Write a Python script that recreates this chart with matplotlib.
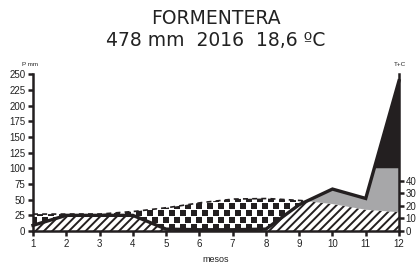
import numpy as np
import matplotlib
matplotlib.use('Agg')
import matplotlib.pyplot as plt
from matplotlib.path import Path

# ---- data ----
months = [1, 2, 3, 4, 5, 6, 7, 8, 9, 10, 11, 12]
precip_mm = [9, 25, 25, 25, 3, 2, 2, 3, 42, 67, 52, 240]
temp_c = [13.5, 13.5, 13.5, 15.5, 18.5, 22.5, 25.5, 26, 24.5, 21.5, 17, 15]
left_ticks = [0, 25, 50, 75, 100, 125, 150, 175, 200, 225, 250]
right_ticks = [0, 10, 20, 30, 40]
station = "FORMENTERA"
subtitle = "478 mm  2016  18,6 ºC"
xlabel = "mesos"
left_title = "P mm"
right_title = "T+C"

plt.rcParams['hatch.linewidth'] = 1.4
plt.rcParams['font.family'] = ['Liberation Sans', 'DejaVu Sans']
INK = '#231f20'

W, H = 418, 263
fig = plt.figure(figsize=(W / 100, H / 100), dpi=100)
ax_l, ax_b, ax_w, ax_h = 33, 32, 366, 156.5
ax = fig.add_axes([ax_l / W, ax_b / H, ax_w / W, ax_h / H])
ax.set_xlim(months[0], months[-1])
ax.set_ylim(0, 250)

x = np.asarray(months, float)
P = np.asarray(precip_mm, float)
T2 = 2 * np.asarray(temp_c, float)
xf = np.linspace(x[0], x[-1], 2201)
Pf = np.interp(xf, x, P)
Tf = np.interp(xf, x, T2)

# hatched part below both curves
ax.fill_between(xf, 0, np.minimum(Pf, Tf), facecolor='white', edgecolor=INK,
                hatch='////', linewidth=0, zorder=1)
# dry period (temperature above precipitation)
dry = ax.fill_between(xf, Pf, Tf, where=Tf >= Pf, facecolor='white',
                      linewidth=0, zorder=1)
clip = Path.make_compound_path(*dry.get_paths())
# square-dot pattern
xs_per_px = (months[-1] - months[0]) / ax_w
ys_per_px = 250 / ax_h
gx, gy = [], []
for r, py in enumerate(np.arange(-3, 80, 7.0)):
    off = 5.5 if r % 2 else 0.0
    for px in np.arange(-10 + off, ax_w + 12, 11.0):
        gx.append(months[0] + px * xs_per_px)
        gy.append(py * ys_per_px)
sc = ax.scatter(gx, gy, marker='s', s=17, c=INK, linewidths=0, zorder=2)
sc.set_clip_path(clip, ax.transData)
ax.plot(xf, np.where(Tf >= Pf, Tf, np.nan), color=INK, lw=1.2,
        ls=(0, (3, 2.5)), zorder=2)

# humid period
ax.fill_between(xf, Tf, np.minimum(Pf, 100), where=Pf >= Tf,
                facecolor='#a7a7a9', linewidth=0, zorder=1)
ax.fill_between(xf, 100, Pf, where=Pf >= 100, facecolor=INK, linewidth=0, zorder=1)

# precipitation line
ax.plot(x, P, color=INK, lw=2.4, solid_joinstyle='miter', zorder=3, clip_on=False)

# axes styling
for s in ['top', 'right']:
    ax.spines[s].set_visible(False)
for s in ['left', 'bottom']:
    ax.spines[s].set_linewidth(1.8)
    ax.spines[s].set_color(INK)
ax.set_xticks(months)
ax.set_yticks(left_ticks)
ax.tick_params(axis='both', direction='out', length=3.6, width=1.8, color=INK,
               labelsize=7, pad=2, labelcolor='#222222')
ax.tick_params(axis='x', pad=2.5)
ax.set_xlabel(xlabel, fontsize=6.5, labelpad=4, color='#222222')

ax2 = ax.twinx()
ax2.set_ylim(0, 125)
ax2.set_yticks(right_ticks)
for s in ['top', 'left', 'bottom']:
    ax2.spines[s].set_visible(False)
ax2.spines['right'].set_linewidth(1.8)
ax2.spines['right'].set_color(INK)
ax2.tick_params(axis='y', direction='out', length=3.6, width=1.8, color=INK,
                labelsize=7, pad=1, labelcolor='#222222')

fig.text(30 / W, 1 - 65 / H, left_title, fontsize=4.5, ha='center', va='center', color='#222222')
fig.text(400 / W, 1 - 65 / H, right_title, fontsize=4.5, ha='center', va='center', color='#222222')

fig.text(216 / W, 1 - 18 / H, station, fontsize=13.5, ha='center', va='center',
         family='DejaVu Sans', color='#222222')
fig.text(216 / W, 1 - 40 / H, subtitle, fontsize=13.5, ha='center', va='center',
         family='DejaVu Sans', color='#222222')

fig.savefig('out.png', dpi=100)
